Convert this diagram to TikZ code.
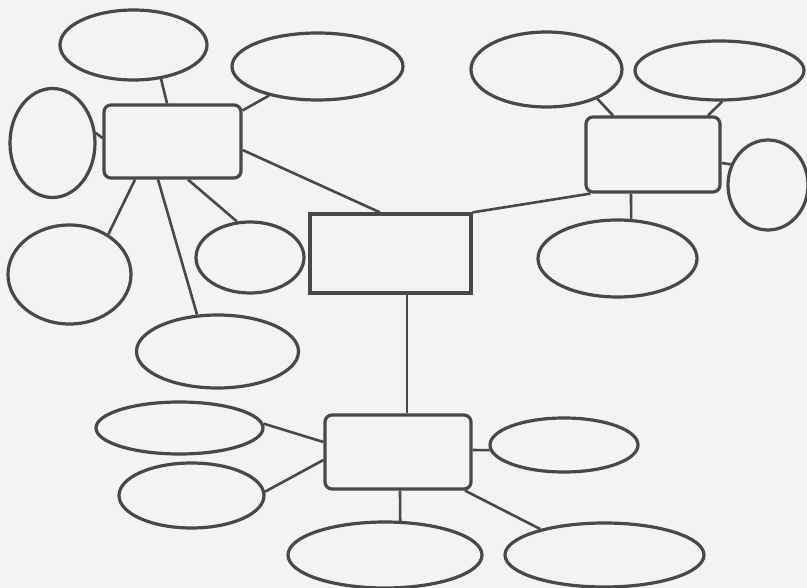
\documentclass[tikz,border=0pt]{standalone}
\usetikzlibrary{shapes.geometric}
\definecolor{paper}{RGB}{243,243,246}
\definecolor{ink}{RGB}{72,72,72}
\tikzset{
  oval/.style={draw=ink, line width=3.2pt, ellipse, inner sep=0pt},
  rbox/.style={draw=ink, line width=3.2pt, rectangle, rounded corners=7pt, inner sep=0pt},
  sbox/.style={draw=ink, line width=3.2pt, rectangle, inner sep=0pt},
  link/.style={draw=ink, line width=2.6pt},
}
\begin{document}
\begin{tikzpicture}[x=1pt,y=-1pt]
\fill[paper] (0,0) rectangle (807,588);
\useasboundingbox (0,0) rectangle (807,588);
% boxes
\node[rbox, minimum width=137pt, minimum height=73pt] (R1) at (172.5,141.5) {};
\node[sbox, minimum width=161pt, minimum height=79pt] (R0) at (390.5,253.5) {};
\node[rbox, minimum width=134pt, minimum height=75pt] (R3) at (653,154.5) {};
\node[rbox, minimum width=146pt, minimum height=74pt] (R2) at (398,452) {};
% ellipses
\node[oval, minimum width=147pt, minimum height=70pt] (E1) at (133.5,45) {};
\node[oval, minimum width=171pt, minimum height=67pt] (E2) at (317.5,66.5) {};
\node[oval, minimum width=85pt, minimum height=109pt] (E3) at (52.5,143) {};
\node[oval, minimum width=123pt, minimum height=99pt] (E4) at (69.5,274.5) {};
\node[oval, minimum width=108pt, minimum height=71pt] (E5) at (250,257.5) {};
\node[oval, minimum width=162pt, minimum height=73pt] (E6) at (217.5,351.5) {};
\node[oval, minimum width=151pt, minimum height=75pt] (E7) at (546.5,69.5) {};
\node[oval, minimum width=169pt, minimum height=59pt] (E8) at (719.5,70.5) {};
\node[oval, minimum width=80pt, minimum height=90pt] (E9) at (768,185) {};
\node[oval, minimum width=159pt, minimum height=77pt] (E10) at (617.5,258.5) {};
\node[oval, minimum width=167pt, minimum height=52pt] (E11) at (179.5,428) {};
\node[oval, minimum width=145pt, minimum height=65pt] (E12) at (191.5,495.5) {};
\node[oval, minimum width=148pt, minimum height=54pt] (E13) at (564,445) {};
\node[oval, minimum width=194pt, minimum height=66pt] (E14) at (385,555) {};
\node[oval, minimum width=199pt, minimum height=64pt] (E15) at (604.5,555) {};
% connectors
\draw[link] (E1.-51) -- ([xshift=-5.5pt]R1.north);
\draw[link] (E2.-149) -- ([yshift=-7pt]R1.north east);
\draw[link] (E3.13) -- ([yshift=3.5pt]R1.west);
\draw[link] ([yshift=-8.5pt]R1.east) -- ([xshift=-10.5pt]R0.north);
\draw[link] ([xshift=-37.5pt]R1.south) -- (E4.46);
\draw[link] ([xshift=-14.5pt]R1.south) -- (E6.119);
\draw[link] ([xshift=15.5pt]R1.south) -- (E5.110);
\draw[link] ([xshift=16.5pt]R0.south) -- ([xshift=9pt]R2.north);
\draw[link] (R0.north east) -- ([xshift=6pt]R3.south west);
\draw[link] ([xshift=-40pt]R3.north) -- (E7.-30);
\draw[link] ([xshift=55pt]R3.north) -- (E8.-85);
\draw[link] ([yshift=-8.5pt]R3.east) -- (E9.151);
\draw[link] ([xshift=-22pt]R3.south) -- (E10.71);
\draw[link] ([yshift=10pt]R2.west) -- (E11.3);
\draw[link] ([yshift=-8pt]R2.west) -- (E12.3);
\draw[link] ([yshift=2pt]R2.east) -- (E13.184);
\draw[link] ([xshift=2pt]R2.south) -- (E14.66);
\draw[link] ([xshift=67pt]R2.south) -- (E15.158);
\end{tikzpicture}
\end{document}
